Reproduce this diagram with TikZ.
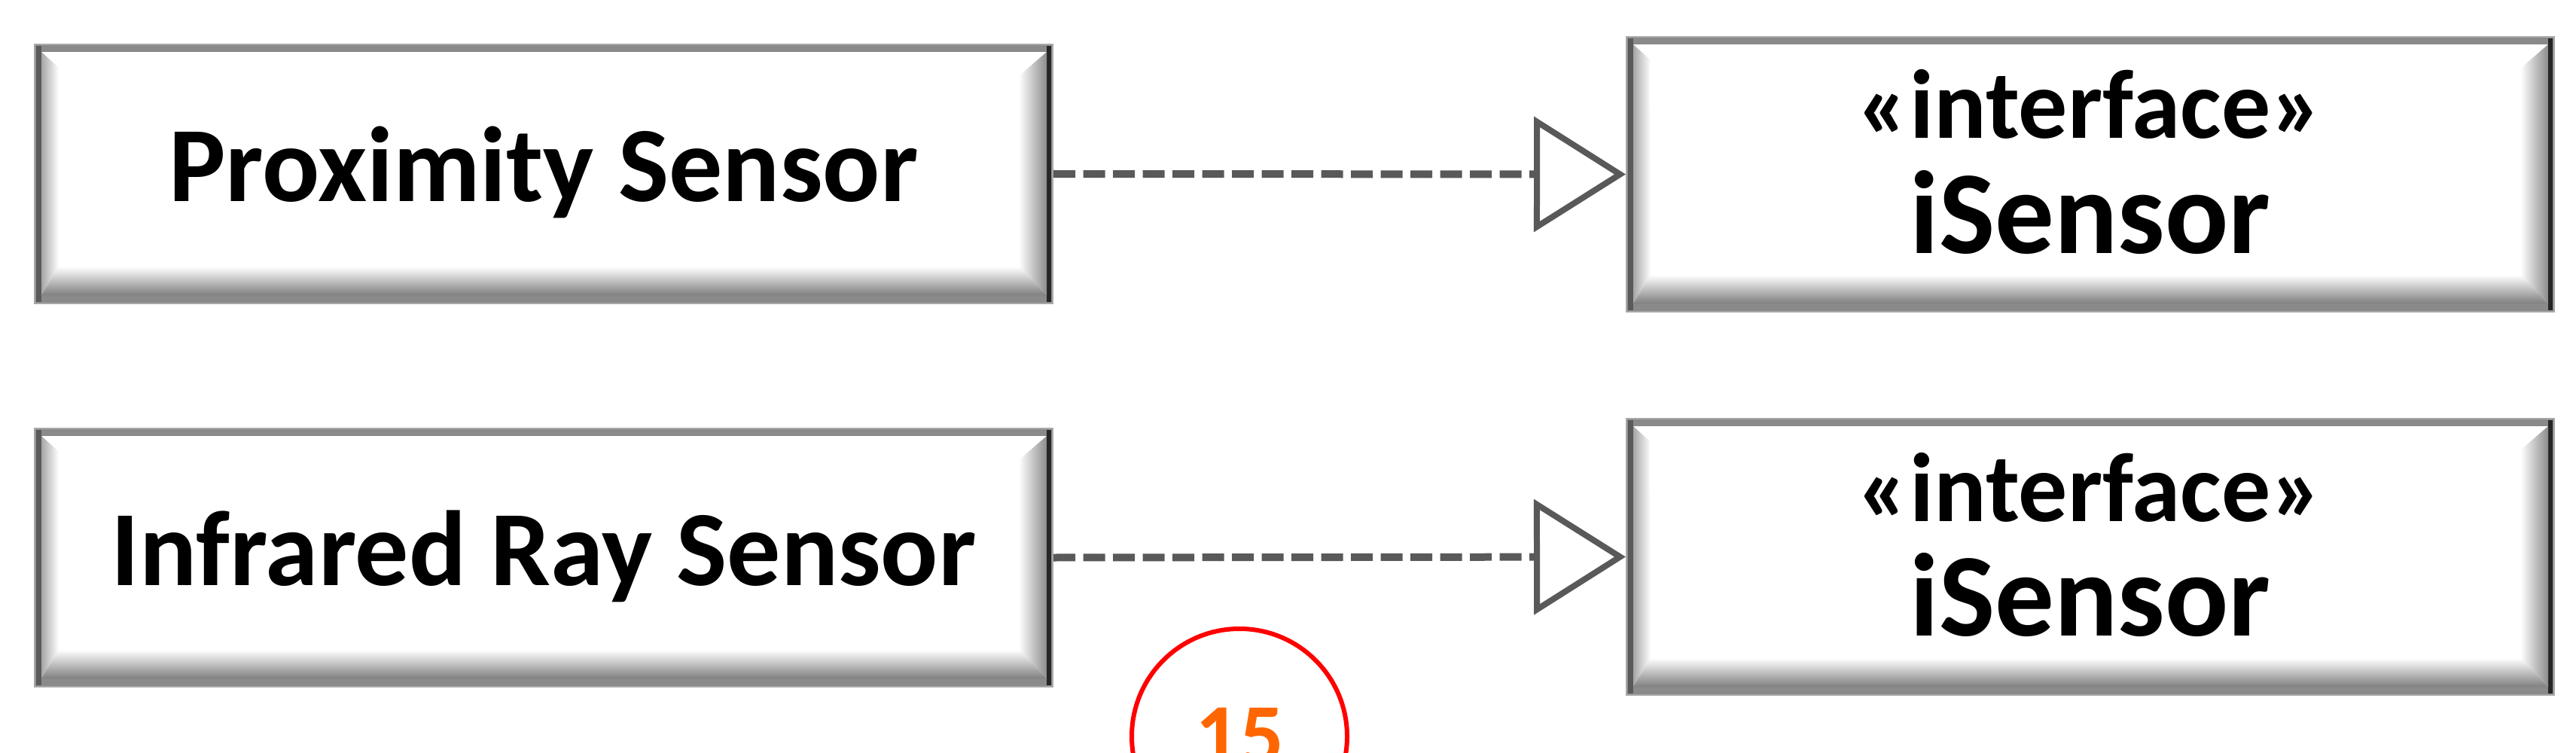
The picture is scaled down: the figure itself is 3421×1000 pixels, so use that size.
\documentclass[tikz,border=0pt]{standalone}
\usepackage{fontspec}
\setmainfont{Carlito}
\usetikzlibrary{arrows.meta}
\definecolor{bvrim}{HTML}{A8A8A8}
\definecolor{bvframe}{HTML}{8A8A8A}
\definecolor{bvleft}{HTML}{5A5A5A}
\definecolor{bvright}{HTML}{262626}
\definecolor{bvshade}{HTML}{808080}
\definecolor{lnk}{HTML}{595959}
\definecolor{numorange}{HTML}{FF6600}
\tikzset{
  boxnode/.style={rectangle, inner sep=0pt, outer sep=0pt},
  bigtext/.style={font=\bfseries\fontsize{142}{150}\selectfont, inner sep=0pt, anchor=base},
  stereo/.style={font=\bfseries\fontsize{130}{134}\selectfont, inner sep=0pt, anchor=base},
  ifname/.style={font=\bfseries\fontsize{157}{170}\selectfont, inner sep=0pt, anchor=base},
  realize/.style={draw=lnk, line width=10pt, dash pattern=on 29pt off 10.5pt,
    -{Triangle[open, length=122pt, width=152pt, line width=8pt, fill=white]}},
  pagenum/.style={circle, draw=red, line width=6pt, minimum size=286pt, inner sep=0pt,
    text=numorange, font=\bfseries\fontsize{116}{120}\selectfont},
}
% #1 name, #2 x1, #3 y1 (top), #4 x2, #5 y2 (bottom), pixel coordinates
\newcommand{\bevelbox}[5]{%
  \pgfmathsetmacro\bbW{#4-#2}%
  \pgfmathsetmacro\bbH{#5-#3}%
  \begin{scope}[shift={(#2,-#5)}]
    \fill[bvrim] (0,0) rectangle (\bbW,\bbH);
    \fill[bvframe] (2,2) rectangle (\bbW-2,\bbH-2);
    \fill[bvleft] (3,3) rectangle (10,\bbH-3);
    \fill[bvright] (\bbW-9,3) rectangle (\bbW-3,\bbH-3);
    \fill[white] (10,12) rectangle (\bbW-9,\bbH-11);
    \shade[left color=bvshade!70, right color=white] (10,12) -- (10,\bbH-11) -- (32,\bbH-31) -- (33,50) -- cycle;
    \shade[bottom color=bvshade, top color=white] (10,12) -- (\bbW-9,12) -- (\bbW-46,50) -- (33,50) -- cycle;
    \shade[left color=white, right color=bvshade!110!black] (\bbW-9,12) -- (\bbW-9,\bbH-11) -- (\bbW-46,\bbH-43) -- (\bbW-46,50) -- cycle;
  \end{scope}
  \node[boxnode, minimum width=\bbW pt, minimum height=\bbH pt] (#1) at ({(#2+#4)/2},{-(#3+#5)/2}) {};
}
\begin{document}
\begin{tikzpicture}[x=1pt, y=1pt]
\useasboundingbox (0,0) rectangle (3421,-1000);
\clip (0,0) rectangle (3421,-1000);
\fill[white] (0,0) rectangle (3421,-1000);

\bevelbox{prox}{45}{58}{1399}{404}
\bevelbox{infra}{45}{568}{1399}{913}
\bevelbox{ifA}{2159}{48}{3393}{415}
\bevelbox{ifB}{2159}{555}{3393}{924}

\node[bigtext] (proxlbl) at ([yshift=-37pt]prox.center) {Proximity Sensor};
\node[bigtext] (infralbl) at ([yshift=-37pt]infra.center) {Infrared Ray Sensor};

\node[stereo] (ifAst) at ([yshift=48pt]ifA.center) {«interface»};
\node[ifname] (ifAnm) at ([yshift=-105pt]ifA.center) {iSensor};
\node[stereo] (ifBst) at ([yshift=47pt]ifB.center) {«interface»};
\node[ifname] (ifBnm) at ([yshift=-105pt]ifB.center) {iSensor};

\draw[realize] (prox.east) -- (ifA.west);
\draw[realize] (infra.east) -- (ifB.west);

\node[pagenum] (pg) at (1646,-978) {15};
\end{tikzpicture}
\end{document}
